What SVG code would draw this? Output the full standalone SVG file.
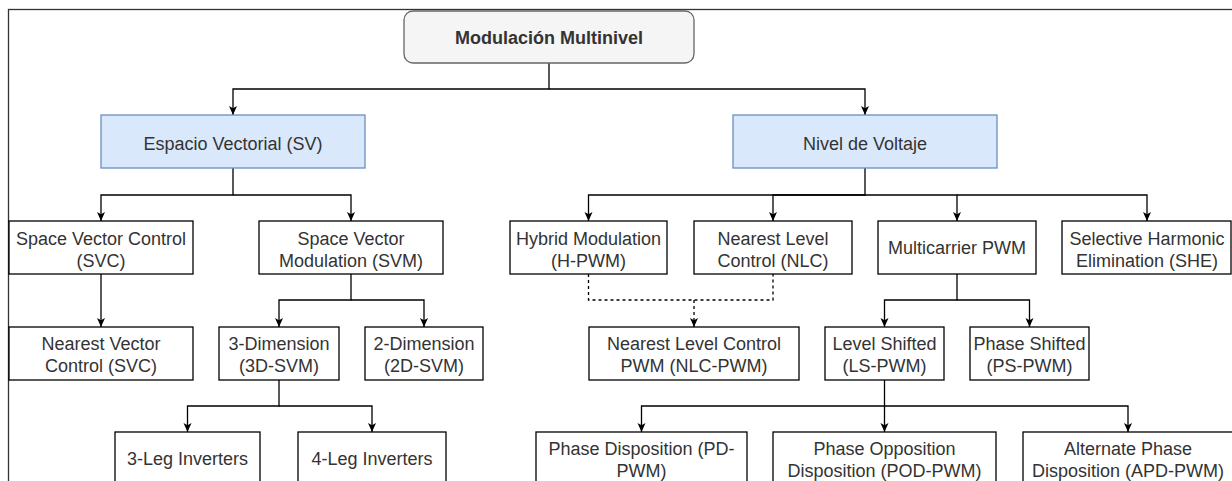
<svg xmlns="http://www.w3.org/2000/svg" width="1232" height="481" viewBox="0 0 1232 481">
<style>
text{font-family:"Liberation Sans",Arial,Helvetica,sans-serif;font-size:18px;fill:#333;text-anchor:middle}
.b{fill:#fff;stroke:#000;stroke-width:1.3}
.blue{fill:#dae8fc;stroke:#6c8ebf;stroke-width:1.3}
.c{fill:none;stroke:#000;stroke-width:1.3;marker-end:url(#ar)}
.d{fill:none;stroke:#000;stroke-width:1.3;stroke-dasharray:3 3}
</style>
<defs>
<marker id="ar" markerUnits="userSpaceOnUse" markerWidth="10" markerHeight="10" refX="9" refY="4" orient="auto">
<path d="M0,0 L9,4 L0,8 L2.2,4 Z" fill="#000"/>
</marker>
</defs>
<rect x="8.5" y="9.5" width="1240" height="500" fill="#fff" stroke="#333" stroke-width="1.3"/>
<g id="connectors">
<path class="c" d="M549,63 V89 H233 V115"/>
<path class="c" d="M549,89 H865 V115"/>
<path class="c" d="M233,168 V195 H101 V221"/>
<path class="c" d="M233,195 H351 V221"/>
<path class="c" d="M101,274 V327"/>
<path class="c" d="M351,274 V300 H279 V327"/>
<path class="c" d="M351,300 H424 V327"/>
<path class="c" d="M279,380 V406 H187.5 V432"/>
<path class="c" d="M279,406 H372 V432"/>
<path class="c" d="M865,168 V195 H588.5 V221"/>
<path class="c" d="M865,195 H773 V221"/>
<path class="c" d="M865,195 H957 V221"/>
<path class="c" d="M957,195 H1147 V221"/>
<path class="d" d="M588.5,274 V300 H773 V274"/>
<path class="d" d="M694,300 V327" marker-end="url(#ar)"/>
<path class="c" d="M957,274 V300 H884.5 V327"/>
<path class="c" d="M957,300 H1029.5 V327"/>
<path class="c" d="M884.5,380 V406 H641.5 V432"/>
<path class="c" d="M884.5,406 V432"/>
<path class="c" d="M884.5,406 H1128 V432"/>
</g>
<g id="top"><rect x="404" y="11" width="290" height="52" rx="9" fill="#f5f5f5" stroke="#666" stroke-width="1.3"/><text x="549" y="43.5" font-weight="bold">Modulación Multinivel</text></g>
<g id="sv"><rect class="blue" x="101" y="115" width="264" height="53"/><text x="233" y="150">Espacio Vectorial (SV)</text></g>
<g id="nv"><rect class="blue" x="733" y="115" width="264" height="53"/><text x="865" y="150">Nivel de Voltaje</text></g>
<g id="svc"><rect class="b" x="9" y="221" width="184" height="53"/><text x="101" y="244.5">Space Vector Control</text><text x="101" y="266.5">(SVC)</text></g>
<g id="svm"><rect class="b" x="259" y="221" width="184" height="53"/><text x="351" y="244.5">Space Vector</text><text x="351" y="266.5">Modulation (SVM)</text></g>
<g id="hpwm"><rect class="b" x="510" y="221" width="157" height="53"/><text x="588.5" y="244.5">Hybrid Modulation</text><text x="588.5" y="266.5">(H-PWM)</text></g>
<g id="nlc"><rect class="b" x="694" y="221" width="158" height="53"/><text x="773" y="244.5">Nearest Level</text><text x="773" y="266.5">Control (NLC)</text></g>
<g id="mpwm"><rect class="b" x="878" y="221" width="158" height="53"/><text x="957" y="254">Multicarrier PWM</text></g>
<g id="she"><rect class="b" x="1062" y="221" width="169" height="53"/><text x="1147" y="244.5">Selective Harmonic</text><text x="1147" y="266.5">Elimination (SHE)</text></g>
<g id="nvc"><rect class="b" x="9" y="327" width="184" height="53"/><text x="101" y="350">Nearest Vector</text><text x="101" y="372">Control (SVC)</text></g>
<g id="d3"><rect class="b" x="219" y="327" width="120" height="53"/><text x="279" y="350">3-Dimension</text><text x="279" y="372">(3D-SVM)</text></g>
<g id="d2"><rect class="b" x="365" y="327" width="118" height="53"/><text x="424" y="350">2-Dimension</text><text x="424" y="372">(2D-SVM)</text></g>
<g id="nlcpwm"><rect class="b" x="589" y="327" width="210" height="53"/><text x="694" y="350">Nearest Level Control</text><text x="694" y="372">PWM (NLC-PWM)</text></g>
<g id="ls"><rect class="b" x="825" y="327" width="119" height="53"/><text x="884.5" y="350">Level Shifted</text><text x="884.5" y="372">(LS-PWM)</text></g>
<g id="ps"><rect class="b" x="970" y="327" width="119" height="53"/><text x="1029.5" y="350">Phase Shifted</text><text x="1029.5" y="372">(PS-PWM)</text></g>
<g id="leg3"><rect class="b" x="115" y="432" width="145" height="53"/><text x="187.5" y="465">3-Leg Inverters</text></g>
<g id="leg4"><rect class="b" x="298" y="432" width="148" height="53"/><text x="372" y="465">4-Leg Inverters</text></g>
<g id="pd"><rect class="b" x="536" y="432" width="211" height="53"/><text x="641.5" y="455">Phase Disposition (PD-</text><text x="641.5" y="477">PWM)</text></g>
<g id="pod"><rect class="b" x="773" y="432" width="223" height="53"/><text x="884.5" y="455">Phase Opposition</text><text x="884.5" y="477">Disposition (POD-PWM)</text></g>
<g id="apd"><rect class="b" x="1023" y="432" width="210" height="53"/><text x="1128" y="455">Alternate Phase</text><text x="1128" y="477">Disposition (APD-PWM)</text></g>
</svg>
